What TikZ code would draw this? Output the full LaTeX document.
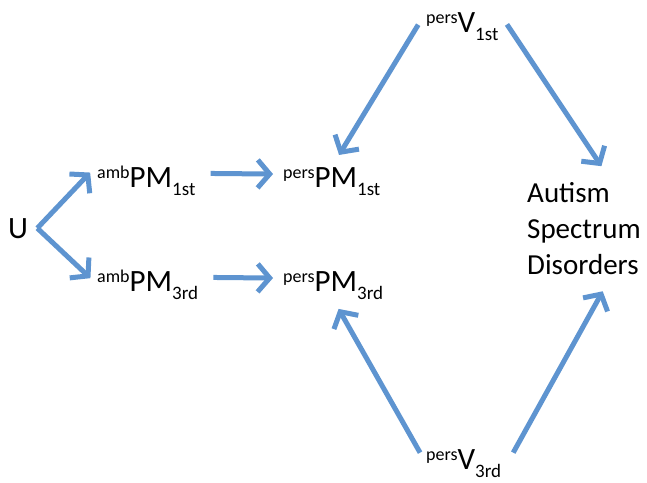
\documentclass[tikz,border=0pt]{standalone}
\usepackage{fontspec}
\setmainfont{Carlito}
\usetikzlibrary{arrows.meta}

\definecolor{linkblue}{RGB}{94,148,208}
\newcommand{\lab}[3]{\raisebox{9pt}{\fontsize{18}{18}\selectfont #1}#2\raisebox{-8pt}{\fontsize{19}{19}\selectfont #3}}

\tikzset{term/.style = {inner sep = 0pt, font = \fontsize{31}{36}\selectfont},
         link/.style = {draw = linkblue, line width = 5pt,
                        -{Straight Barb[length = 12pt, width = 28pt]}},
        }

\begin{document}
\begin{tikzpicture}[x=1pt, y=-1pt]
  \useasboundingbox (0,0) rectangle (647,482);
  \node[term, anchor=base west] (u)    at (8,238)   {U};
  \node[term, anchor=base west] (amb1) at (97,187)  {\lab{amb}{PM}{1st}};
  \node[term, anchor=base west] (amb3) at (97,291)  {\lab{amb}{PM}{3rd}};
  \node[term, anchor=base west] (pp1)  at (283,187) {\lab{pers}{PM}{1st}};
  \node[term, anchor=base west] (pp3)  at (283,291) {\lab{pers}{PM}{3rd}};
  \node[term, anchor=base west] (pv1)  at (426,32)  {\lab{pers}{V}{1st}};
  \node[term, anchor=base west] (pv3)  at (426,469) {\lab{pers}{V}{3rd}};
  \node[term, anchor=north west, align=left, font=\fontsize{29}{36}\selectfont] (asd)
       at (527,182) {Autism\\Spectrum\\Disorders};

  \draw[link, shorten >=10pt] ([xshift=9pt]u.east) -- (amb1.north west);
  \draw[link, shorten >=9pt]  ([xshift=9pt]u.east) -- (amb3.west);
  \draw[link, shorten <=15pt, shorten >=10pt] ([yshift=7pt]amb1.east) -- ([yshift=7pt]pp1.west);
  \draw[link, shorten <=15pt, shorten >=10pt] ([yshift=7pt]amb3.east) -- ([yshift=7pt]pp3.west);
  \draw[link, shorten <=15pt, shorten >=14pt] (pv1.north west) -- (pp1.north);
  \draw[link, shorten <=15pt, shorten >=19pt] (pv1.north east) -- ([xshift=28pt]asd.north);
  \draw[link, shorten <=12pt, shorten >=11pt] (pv3.west) -- (pp3.south);
  \draw[link, shorten <=12pt, shorten >=19pt] ([xshift=6pt]pv3.east) -- ([xshift=28pt]asd.south);
\end{tikzpicture}
\end{document}
